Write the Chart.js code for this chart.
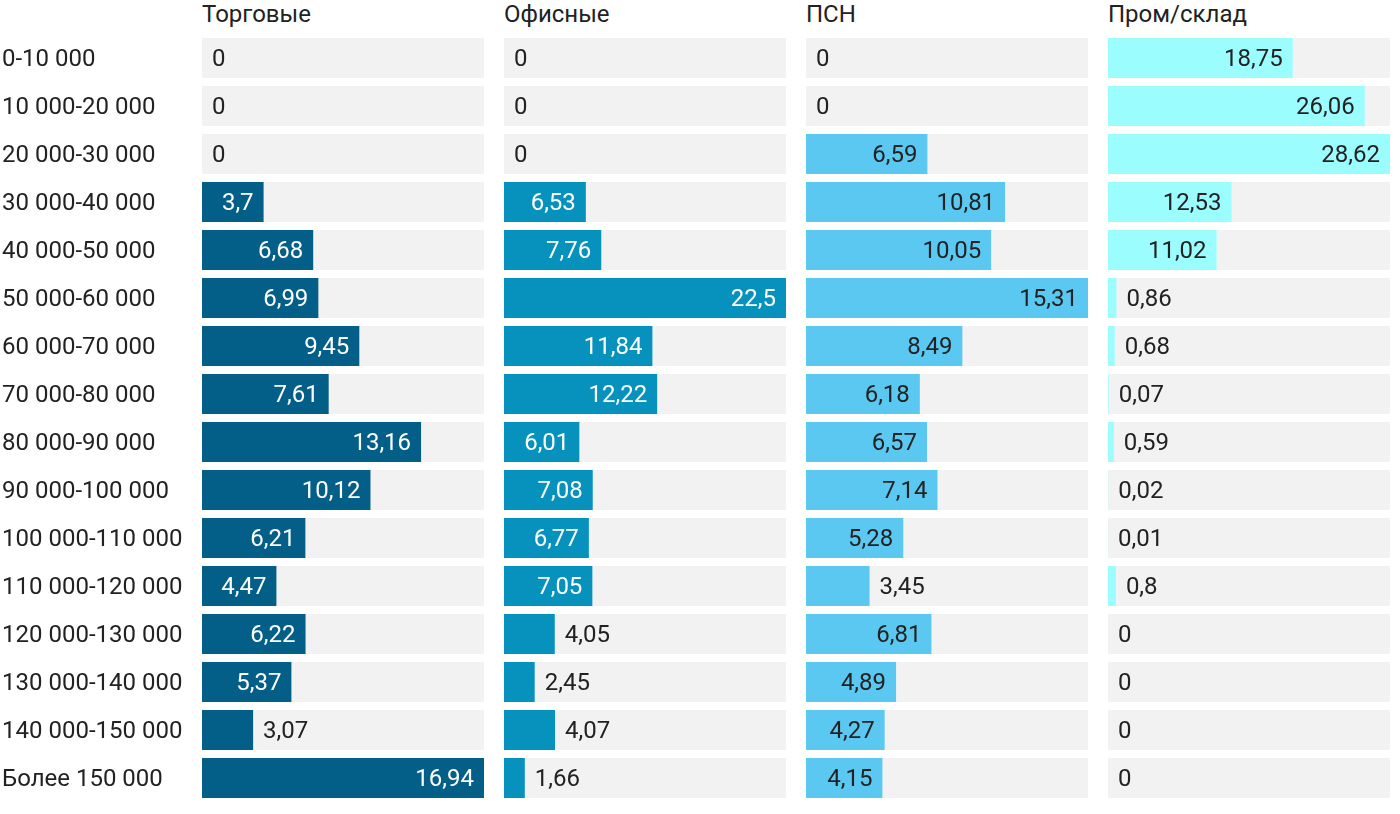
<!DOCTYPE html>
<html>
<head>
<meta charset="utf-8">
<script src="https://cdn.jsdelivr.net/npm/chart.js@4.4.1/dist/chart.umd.min.js"></script>
<style>
  body { margin: 0; background: #fff; font-family: Roboto, sans-serif; }
  .panel { position: absolute; top: 34px; height: 768px; }
  .title { position: absolute; top: 0; font: 24px Roboto, sans-serif; color: #222; line-height: 28px; }
</style>
</head>
<body>
<div class="title" style="left:202px">Торговые</div>
<div class="title" style="left:504px">Офисные</div>
<div class="title" style="left:806px">ПСН</div>
<div class="title" style="left:1108px">Пром/склад</div>
<div class="panel" style="left:0;width:484px"><canvas id="c0"></canvas></div>
<div class="panel" style="left:504px;width:282px"><canvas id="c1"></canvas></div>
<div class="panel" style="left:806px;width:282px"><canvas id="c2"></canvas></div>
<div class="panel" style="left:1108px;width:282px"><canvas id="c3"></canvas></div>
<script>
const categories = ["0-10 000", "10 000-20 000", "20 000-30 000", "30 000-40 000", "40 000-50 000",
  "50 000-60 000", "60 000-70 000", "70 000-80 000", "80 000-90 000", "90 000-100 000",
  "100 000-110 000", "110 000-120 000", "120 000-130 000", "130 000-140 000", "140 000-150 000", "Более 150 000"];

const retail = [0, 0, 0, 3.7, 6.68, 6.99, 9.45, 7.61, 13.16, 10.12, 6.21, 4.47, 6.22, 5.37, 3.07, 16.94];
const office = [0, 0, 0, 6.53, 7.76, 22.5, 11.84, 12.22, 6.01, 7.08, 6.77, 7.05, 4.05, 2.45, 4.07, 1.66];
const psn = [0, 0, 6.59, 10.81, 10.05, 15.31, 8.49, 6.18, 6.57, 7.14, 5.28, 3.45, 6.81, 4.89, 4.27, 4.15];
const industrial = [18.75, 26.06, 28.62, 12.53, 11.02, 0.86, 0.68, 0.07, 0.59, 0.02, 0.01, 0.8, 0, 0, 0, 0];

const panels = [
  { id: "c0", values: retail, color: "#035f87", inner: "#ffffff", axis: true },
  { id: "c1", values: office, color: "#0792bd", inner: "#ffffff", axis: false },
  { id: "c2", values: psn, color: "#5bc8f2", inner: "#222222", axis: false },
  { id: "c3", values: industrial, color: "#9cfdfe", inner: "#222222", axis: false }
];

const FONT = "24px Roboto, sans-serif";

// gray track behind every row
const trackPlugin = {
  id: "track",
  beforeDatasetsDraw(chart) {
    const ctx = chart.ctx, area = chart.chartArea, y = chart.scales.y;
    const h = (area.bottom - area.top) / categories.length * (40 / 48);
    ctx.save();
    ctx.fillStyle = "#f2f2f2";
    categories.forEach((c, i) => {
      const cy = y.getPixelForValue(i);
      ctx.fillRect(area.left, cy - h / 2, area.right - area.left, h);
    });
    ctx.restore();
  }
};

// value labels, inside the bar when it fits
const valuePlugin = {
  id: "values",
  afterDatasetsDraw(chart, args, opts) {
    const ctx = chart.ctx;
    const meta = chart.getDatasetMeta(0);
    const vals = chart.data.datasets[0].data;
    ctx.save();
    ctx.font = FONT;
    ctx.textBaseline = "middle";
    meta.data.forEach((bar, i) => {
      const text = String(vals[i]).replace(".", ",");
      const tw = ctx.measureText(text).width;
      const w = bar.x - bar.base;
      if (vals[i] > 0 && w >= tw + 24) {
        ctx.fillStyle = opts.inner;
        ctx.textAlign = "right";
        ctx.fillText(text, bar.x - 10, bar.y + 2);
      } else {
        ctx.fillStyle = "#222";
        ctx.textAlign = "left";
        ctx.fillText(text, Math.max(bar.x, bar.base) + 10, bar.y + 2);
      }
    });
    ctx.restore();
  }
};

panels.forEach(p => {
  new Chart(document.getElementById(p.id), {
    type: "bar",
    data: {
      labels: categories,
      datasets: [{
        data: p.values,
        backgroundColor: p.color,
        categoryPercentage: 40 / 48,
        barPercentage: 1
      }]
    },
    options: {
      indexAxis: "y",
      responsive: true,
      maintainAspectRatio: false,
      animation: false,
      devicePixelRatio: 1,
      layout: { padding: { left: p.axis ? 2 : 0, top: 0, right: 0, bottom: 0 } },
      plugins: {
        legend: { display: false },
        tooltip: { enabled: false },
        values: { inner: p.inner }
      },
      scales: {
        x: { display: false, min: 0, max: Math.max(...p.values) },
        y: {
          display: p.axis,
          grid: { display: false },
          border: { display: false },
          ticks: {
            crossAlign: "far",
            padding: 0,
            labelOffset: 2,
            color: "#222",
            font: { family: "Roboto, sans-serif", size: 24 }
          },
          afterFit(scale) {
            if (p.axis) scale.width = 200;
            scale.paddingTop = 0;
            scale.paddingBottom = 0;
          }
        }
      }
    },
    plugins: [trackPlugin, valuePlugin]
  });
});
</script>
</body>
</html>
